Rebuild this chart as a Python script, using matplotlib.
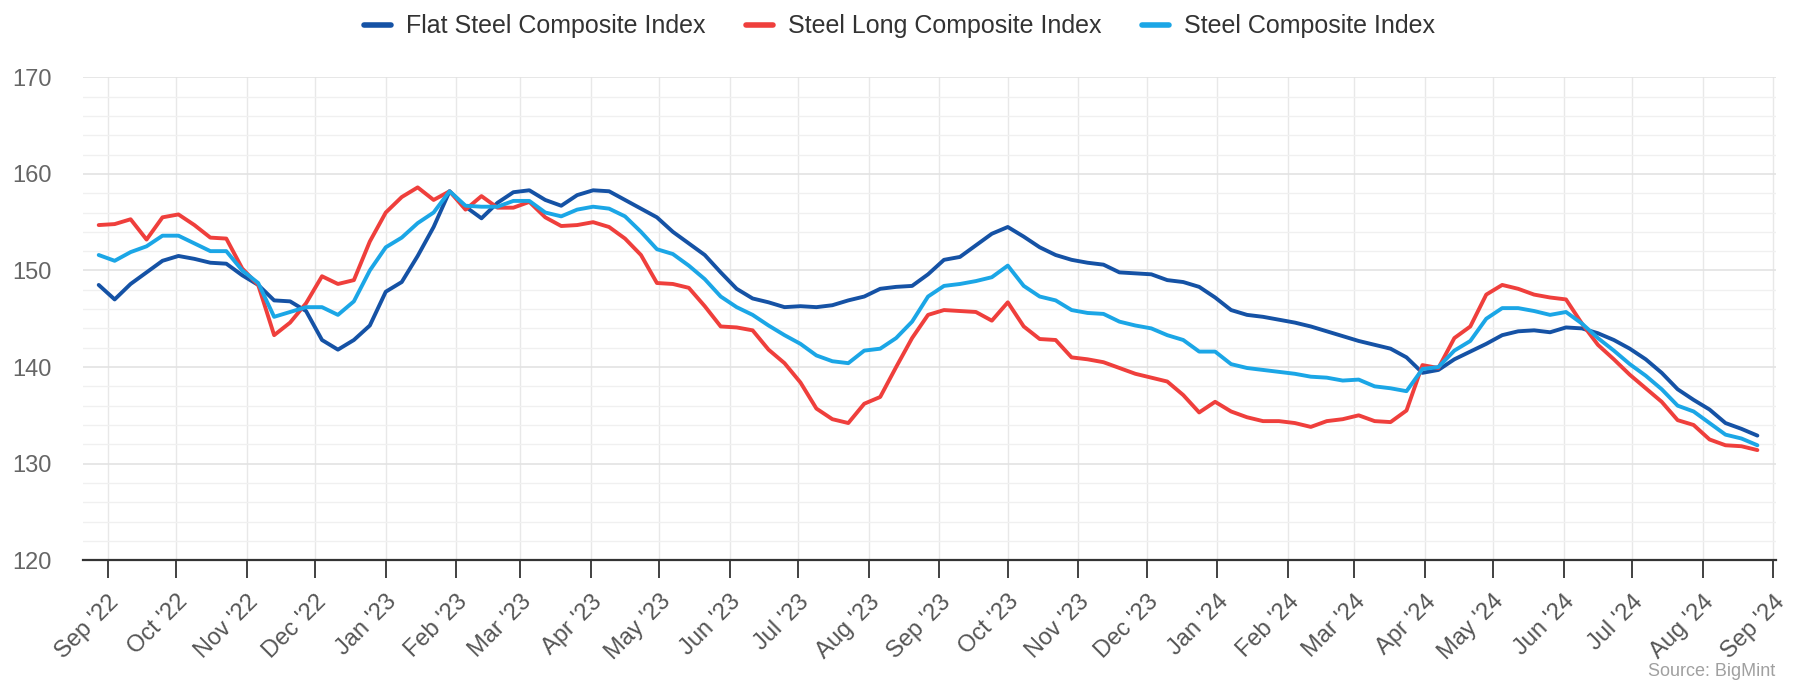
import matplotlib
matplotlib.use("Agg")
import matplotlib.pyplot as plt
import matplotlib.dates as mdates
import numpy as np
import pandas as pd

plt.rcParams['font.family'] = ['Liberation Sans', 'DejaVu Sans']

start_date = "2022-08-28"
n_weeks = 105
dates = pd.date_range(start_date, periods=n_weeks, freq="7D")

flat = [148.5, 147.0, 148.6, 149.8, 151.0, 151.5, 151.2, 150.8, 150.7, 149.5,
        148.5, 146.9, 146.8, 145.8, 142.8, 141.8, 142.8, 144.3, 147.8, 148.8,
        151.5, 154.5, 158.2, 156.6, 155.4, 157.0, 158.1, 158.3, 157.3, 156.7,
        157.8, 158.3, 158.2, 157.3, 156.4, 155.5, 154.0, 152.8, 151.6, 149.8,
        148.1, 147.1, 146.7, 146.2, 146.3, 146.2, 146.4, 146.9, 147.3, 148.1,
        148.3, 148.4, 149.6, 151.1, 151.4, 152.6, 153.8, 154.5, 153.5, 152.4,
        151.6, 151.1, 150.8, 150.6, 149.8, 149.7, 149.6, 149.0, 148.8, 148.3,
        147.2, 145.9, 145.4, 145.2, 144.9, 144.6, 144.2, 143.7, 143.2, 142.7,
        142.3, 141.9, 141.0, 139.4, 139.7, 140.8, 141.6, 142.4, 143.3, 143.7,
        143.8, 143.6, 144.1, 144.0, 143.5, 142.8, 141.9, 140.8, 139.4, 137.7,
        136.6, 135.6, 134.2, 133.6, 132.9]

long_ = [154.7, 154.8, 155.3, 153.2, 155.5, 155.8, 154.7, 153.4, 153.3, 150.2,
         148.5, 143.3, 144.6, 146.6, 149.4, 148.6, 149.0, 153.0, 156.0, 157.6,
         158.6, 157.3, 158.2, 156.3, 157.7, 156.5, 156.5, 157.1, 155.5, 154.6,
         154.7, 155.0, 154.5, 153.3, 151.6, 148.7, 148.6, 148.2, 146.3, 144.2,
         144.1, 143.8, 141.8, 140.4, 138.4, 135.7, 134.6, 134.2, 136.2, 136.9,
         140.0, 143.0, 145.4, 145.9, 145.8, 145.7, 144.8, 146.7, 144.2, 142.9,
         142.8, 141.0, 140.8, 140.5, 139.9, 139.3, 138.9, 138.5, 137.1, 135.3,
         136.4, 135.4, 134.8, 134.4, 134.4, 134.2, 133.8, 134.4, 134.6, 135.0,
         134.4, 134.3, 135.5, 140.2, 139.9, 143.0, 144.2, 147.5, 148.5, 148.1,
         147.5, 147.2, 147.0, 144.5, 142.3, 140.8, 139.2, 137.8, 136.4, 134.5,
         134.0, 132.5, 131.9, 131.8, 131.4]

composite = [151.6, 151.0, 151.9, 152.5, 153.6, 153.6, 152.8, 152.0, 152.0, 150.0,
             148.7, 145.2, 145.7, 146.2, 146.2, 145.4, 146.8, 150.0, 152.4, 153.4,
             154.9, 156.0, 158.2, 156.7, 156.6, 156.6, 157.2, 157.2, 156.0, 155.6,
             156.3, 156.6, 156.4, 155.6, 154.0, 152.2, 151.7, 150.5, 149.1, 147.3,
             146.2, 145.4, 144.3, 143.3, 142.4, 141.2, 140.6, 140.4, 141.7, 141.9,
             143.0, 144.7, 147.3, 148.4, 148.6, 148.9, 149.3, 150.5, 148.4, 147.3,
             146.9, 145.9, 145.6, 145.5, 144.7, 144.3, 144.0, 143.3, 142.8, 141.6,
             141.6, 140.3, 139.9, 139.7, 139.5, 139.3, 139.0, 138.9, 138.6, 138.7,
             138.0, 137.8, 137.5, 139.8, 140.0, 141.7, 142.7, 145.0, 146.1, 146.1,
             145.8, 145.4, 145.7, 144.5, 143.0, 141.7, 140.3, 139.1, 137.7, 136.0,
             135.4, 134.2, 133.0, 132.6, 131.9]

series_names = ["Flat Steel Composite Index", "Steel Long Composite Index", "Steel Composite Index"]
series_colors = ["#1552a5", "#ef3f3c", "#1ba6e6"]

y_ticks = [120, 130, 140, 150, 160, 170]

fig = plt.figure(figsize=(17.99, 6.84), dpi=100)
ax = fig.add_axes([0.046, 0.181, 0.941, 0.706])

for vals, name, col in zip([flat, long_, composite], series_names, series_colors):
    ax.plot(dates, vals, color=col, lw=2.8, label=name, solid_joinstyle='round',
            solid_capstyle='round', zorder=3)

ax.set_ylim(120, 170)
ax.set_yticks(y_ticks)
ax.set_yticks(np.arange(120, 171, 2), minor=True)
ax.set_xlim(pd.Timestamp("2022-08-21"), pd.Timestamp("2024-09-02"))

ax.xaxis.set_major_locator(mdates.MonthLocator())
ax.xaxis.set_major_formatter(mdates.DateFormatter("%b '%y"))

ax.grid(True, which='major', axis='y', color='#e3e3e3', lw=1.2, zorder=0)
ax.grid(True, which='minor', axis='y', color='#f0f0f0', lw=1.0, zorder=0)
ax.grid(True, which='major', axis='x', color='#e8e8e8', lw=1.0, zorder=0)

for s in ['top', 'right', 'left']:
    ax.spines[s].set_visible(False)
ax.spines['bottom'].set_color('#333333')
ax.spines['bottom'].set_linewidth(1.6)

ax.tick_params(axis='y', which='both', length=0, pad=51, labelsize=17, labelcolor='#666666')
ax.tick_params(axis='x', which='major', length=13, width=1.3, color='#333333',
               labelsize=17, labelcolor='#555555', pad=9)
for lab in ax.get_xticklabels():
    lab.set_rotation(45)
    lab.set_ha('right')
    lab.set_rotation_mode('anchor')
for lab in ax.get_yticklabels():
    lab.set_ha('left')

leg = fig.legend(loc='upper center', bbox_to_anchor=(0.5, 1.012), ncol=3, frameon=False,
                 fontsize=18, handlelength=1.1, handletextpad=0.6, columnspacing=1.6)
for t in leg.get_texts():
    t.set_color('#333333')
for h in leg.get_lines():
    h.set_linewidth(4)

fig.text(0.987, 0.006, "Source: BigMint", ha='right', va='bottom', fontsize=13, color='#a0a0a0')

fig.savefig("out.png", dpi=100, facecolor='white')
